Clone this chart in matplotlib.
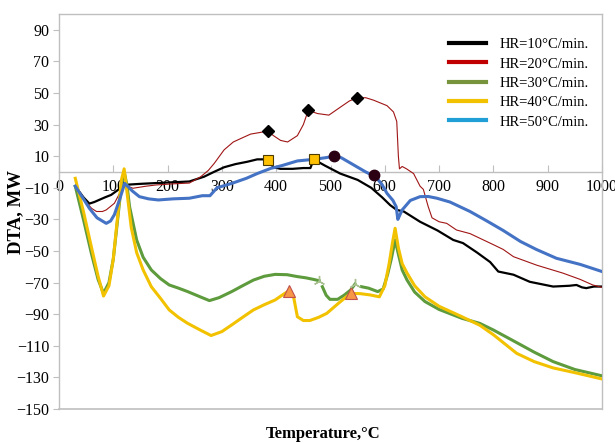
import matplotlib
matplotlib.use("Agg")
import matplotlib.pyplot as plt
import numpy as np
from matplotlib.lines import Line2D

nan = np.nan

# HR = 10 °C/min
t10 = [30, 45, 56, 65, 75, 85, 96, 110, 120, 127, 150, 179, 210, 240, 267, 285, 304, 325, 347, 365, 384,
       395, 408, 430, 450, 463, 469, 490, 518, 550, 575, 595, 610, 622, 635, 665, 697, 726, 744, 770, 794,
       809, 837, 867, 910, 940, 953, 963, 971, 985, 1000]
d10 = [-9, -16, -20, -19, -17.5, -16, -14.5, -11, -8, -8, -7.5, -7, -6.5, -6, -3, 0, 3, 5, 6.5, 8, 8,
       3, 2, 2, 2.5, 2.5, 8, 4, -1, -5, -10, -16, -21, -24, -25, -31.5, -37, -43, -45, -51, -57,
       -63, -65, -69.5, -72.5, -72, -71.5, -73, -73.5, -72.5, -72.5]

# HR = 20 °C/min
t20 = [30, 45, 60, 69, 80, 87, 102, 120, 136, 160, 179, 210, 240, 261, 275, 286, 304, 321, 340, 353, 370,
       384, 395, 408, 421, 439, 450, 459, 476, 497, 518, 535, 549, 565, 579, 604, 616, 622, 625, 627, 632,
       640, 653, 665, 671, 680, 687, 700, 714, 732, 757, 800, 818, 837, 880, 928, 960, 983, 1000]
d20 = [-9, -17, -23, -25, -25, -24, -19.8, -8, -10.3, -9, -8.2, -7.5, -7, -3, 1, 5.5, 14, 19, 22, 24, 25,
       26, 23, 20, 19, 23, 30, 39, 37, 36, 41, 45, 47, 47, 45.5, 42, 38, 32, 10, 2, 3.5,
       2, -1, -9, -11, -22, -29, -31.5, -32.5, -36.7, -39, -46, -49, -53.6, -59, -64, -68, -71.5, -73]

# HR = 30 °C/min (gaps where the series has no data)
t30 = [30, 45, 60, 72, 82, 92, 100, 108, 115, 120, 125, 130, 143, 155, 170, 187, 203, 220, 237, 260, 277,
       295, 318, 338, 358, 378, 398, 420, 439, 455, 469, 479, 482, 485, 492, 499, 513, 525, 537, 545, 551,
       557, 570, 587, 597, 605, 612, 619, 625, 632, 641, 655, 674, 700, 742, 775, 800, 843, 875, 910, 950, 1000]
d30 = [-9, -30, -52, -68, -76.8, -70, -55, -30, -8, 0, -8, -22, -43, -54, -62, -67.5, -71.5, -73.5, -75.7, -79, -81.4,
       -79.5, -75.7, -72, -68.4, -66, -64.8, -65, -66.2, -67, -68, -68.8, nan, -72.6, -78, -80.6, -80.6, -78, -74.7, -71, nan,
       -72.6, -73.5, -75.7, -74, -65, -55, -43, -52, -62, -68.4, -76, -82, -87, -92.6, -95.8, -100, -108, -114, -120, -125, -129]

# HR = 40 °C/min
t40 = [30, 45, 60, 72, 82, 92, 100, 108, 115, 120, 126, 133, 143, 155, 170, 187, 203, 220, 237, 260, 280,
       300, 318, 338, 358, 378, 398, 415, 423, 428, 432, 439, 450, 462, 478, 493, 515, 537, 555, 573, 590,
       600, 608, 614, 619, 625, 632, 641, 655, 674, 700, 742, 775, 800, 843, 875, 910, 950, 1000]
d40 = [-4, -25, -48, -66, -78.5, -72, -55, -28, -5, 2, -15, -35, -51, -62, -72.6, -80, -87.3, -92, -95.8, -100, -103.5,
       -101, -96.8, -92, -87.3, -84, -81, -77, -75.3, -77, -79, -91.6, -94, -94, -92, -89.5, -83, -76.8, -77, -77.8, -79,
       -72, -58, -45, -35.6, -48, -58, -64, -72, -79, -85, -91.6, -97, -103, -114.8, -120, -124, -127, -131]

# HR = 50 °C/min
t50 = [30, 45, 56, 70, 87, 95, 102, 112, 121, 135, 148, 165, 183, 210, 240, 264, 278, 291, 320, 345, 365,
       390, 410, 439, 469, 490, 507, 520, 543, 565, 583, 595, 604, 615, 621, 624, 628, 632, 647, 665, 680,
       696, 720, 757, 788, 818, 850, 879, 916, 960, 1000]
d50 = [-9, -17, -23, -29, -32.5, -31, -27, -17, -7.2, -12, -15.6, -17, -17.7, -17, -16.6, -15, -15, -10, -7, -4, -1,
       2.3, 4, 7, 8, 9, 10, 9, 4.4, 0, -3, -8, -13.5, -18, -22, -30, -27, -24, -18, -15.6, -15.5,
       -16.6, -19, -25, -31, -37, -44, -49, -54.6, -58.5, -63]

# marked points
diamond_t, diamond_d = [384, 459, 549], [26, 39, 47]
square_t, square_d = [384, 469], [7.6, 8]
circle_t, circle_d = [507, 580], [10, -2]
tri_t, tri_d = [423, 537], [-75, -76.5]
star_t, star_d = [479, 546], [-68.8, -71]

labels = ["HR=10°C/min.", "HR=20°C/min.", "HR=30°C/min.", "HR=40°C/min.", "HR=50°C/min."]
legend_colors = ["#000000", "#C00000", "#77933C", "#F2C200", "#1F9FD5"]

serif = ["Liberation Serif", "DejaVu Serif"]
plt.rcParams["font.family"] = serif
grey = "#BFBFBF"

fig = plt.figure(figsize=(6.15, 4.43), dpi=100)
ax = fig.add_axes([59 / 615, 34 / 443, 543 / 615, 395 / 443])

ax.plot(t10, d10, color="#000000", lw=1.6, zorder=3)
ax.plot(t20, d20, color="#A01515", lw=0.8, zorder=3)
ax.plot(t30, d30, color="#5D9B3D", lw=2.2, zorder=3)
ax.plot(t40, d40, color="#F2C200", lw=2.2, zorder=3)
ax.plot(t50, d50, color="#4472C4", lw=2.2, zorder=4)

ax.plot(diamond_t, diamond_d, ls="none", marker="D", ms=6, color="black", zorder=5)
ax.plot(square_t, square_d, ls="none", marker="s", ms=7.5, mfc="#FFC000", mec="#4D3B00", mew=0.8, zorder=5)
ax.plot(circle_t, circle_d, ls="none", marker="o", ms=7.5, color="#2A0012", zorder=5)
ax.plot(tri_t, tri_d, ls="none", marker="^", ms=9, mfc="#F79646", mec="#C0504D", mew=0.8, zorder=5)
ax.plot(star_t, star_d, ls="none", marker=(3, 2, 0), ms=8, color="#A8C090", mew=1.0, zorder=5)

ax.set_xlim(0, 1000)
ax.set_ylim(-150, 100)
ax.set_xticks(np.arange(0, 1001, 100))
ax.set_yticks(np.arange(-150, 91, 20))

for s in ["left", "top", "right", "bottom"]:
    ax.spines[s].set_color(grey)
    ax.spines[s].set_linewidth(1.0)
ax.spines["bottom"].set_position(("data", 0))
ax.axhline(-150, color=grey, lw=1.2, clip_on=False)

ax.tick_params(axis="x", direction="in", length=5, color=grey, pad=5, labelsize=11.5)
ax.tick_params(axis="y", direction="out", length=4, color=grey, pad=3, labelsize=11.5)

ax.set_ylabel("DTA, MW", fontsize=13.5, fontweight="bold")
ax.yaxis.set_label_coords(-0.064, 0.5)
ax.set_xlabel("Temperature,°C", fontsize=12, fontweight="bold")
ax.xaxis.set_label_coords(0.486, -0.043)

handles = [Line2D([0], [0], color=c, lw=3) for c in legend_colors]
ax.legend(handles, labels, loc="upper left", bbox_to_anchor=(449 / 615, 1 - 38 / 443),
          bbox_transform=fig.transFigure, frameon=False, fontsize=10.5, handlelength=2.55,
          handletextpad=0.95, labelspacing=0.42, borderpad=0, borderaxespad=0)

fig.savefig("out.png", dpi=100)
